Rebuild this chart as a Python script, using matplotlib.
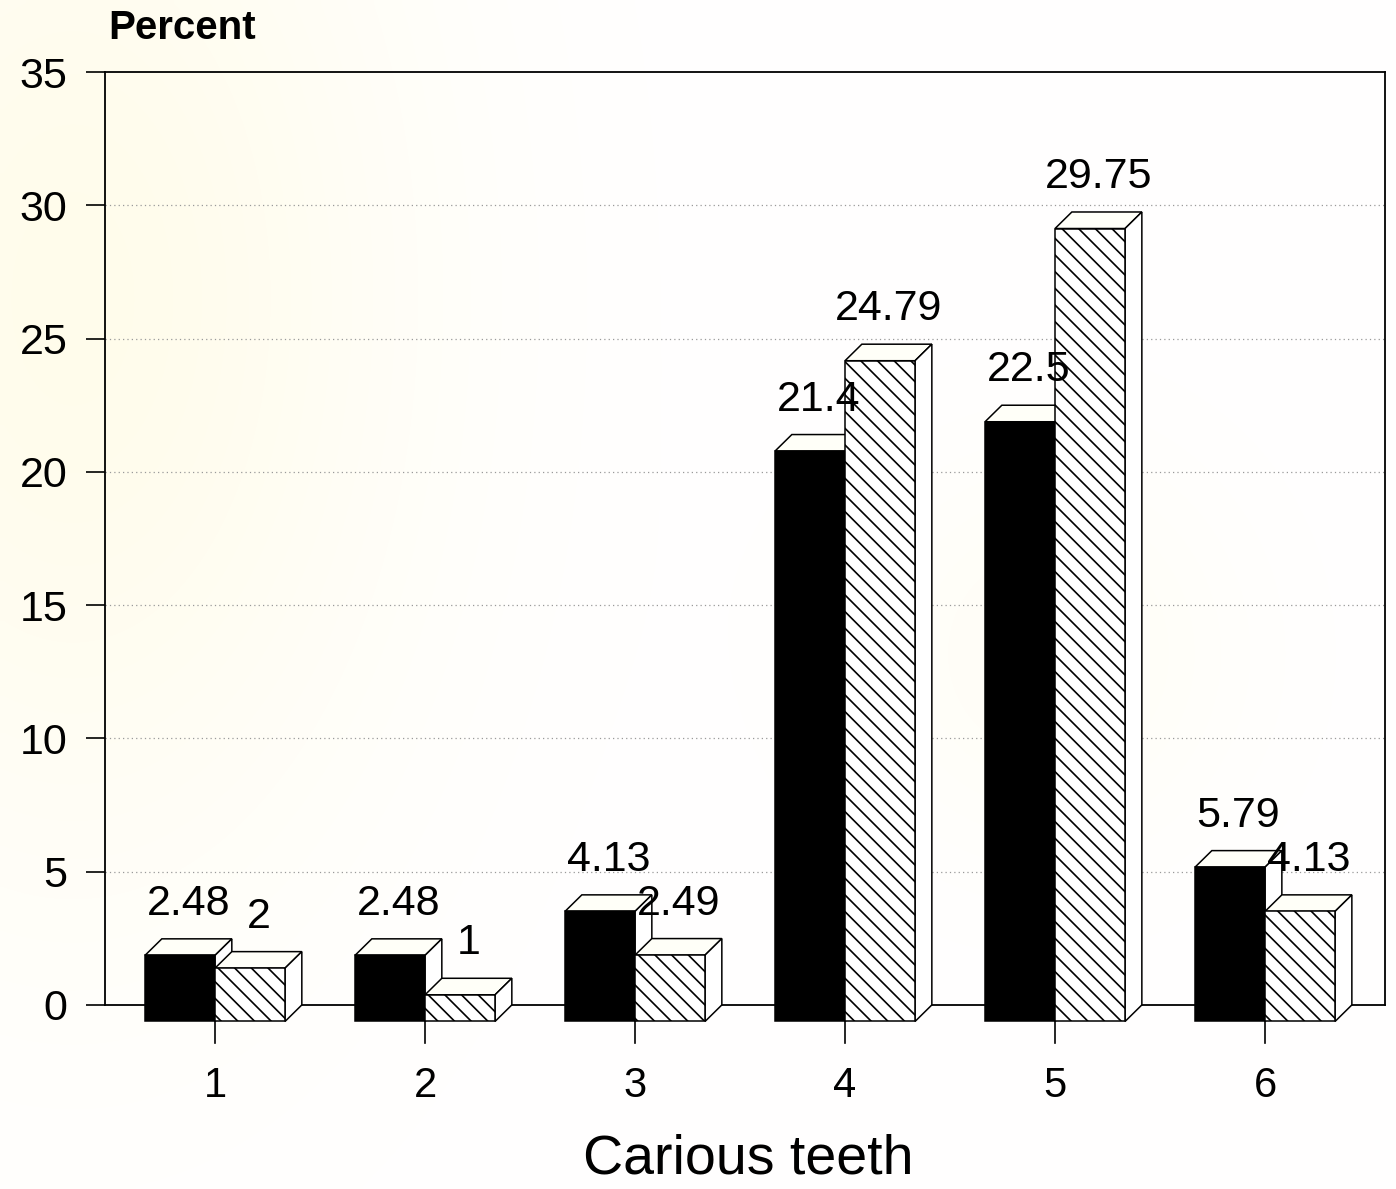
"""Carious teeth distribution: two-series 3D-style bar chart (percent per count)."""

import matplotlib
matplotlib.use("Agg")
import matplotlib.pyplot as plt
import numpy as np
from matplotlib.patches import Polygon

plt.rcParams["font.family"] = ["Liberation Sans", "DejaVu Sans"]
plt.rcParams["hatch.linewidth"] = 1.2

categories = ["1", "2", "3", "4", "5", "6"]
solid_vals = [2.48, 2.48, 4.13, 21.4, 22.5, 5.79]
hatched_vals = [2, 1, 2.49, 24.79, 29.75, 4.13]
solid_labels = ["2.48", "2.48", "4.13", "21.4", "22.5", "5.79"]
hatched_labels = ["2", "1", "2.49", "24.79", "29.75", "4.13"]
y_ticks = [0, 5, 10, 15, 20, 25, 30, 35]

BAR_W = 1 / 3      # front face width (category units)
DX = 0.08          # depth offset to the right
DY = 0.62          # depth offset upwards (percent units)


def box(ax, x0, v, front_kw):
    """Front face sits DY below the value; top and side faces recede up-right."""
    x1 = x0 + BAR_W
    edge = dict(edgecolor="black", linewidth=1.1, clip_on=False, zorder=4)
    top = [(x0, v - DY), (x1, v - DY), (x1 + DX, v), (x0 + DX, v)]
    side = [(x1, -DY), (x1 + DX, 0), (x1 + DX, v), (x1, v - DY)]
    front = [(x0, -DY), (x1, -DY), (x1, v - DY), (x0, v - DY)]
    ax.add_patch(Polygon(top, closed=True, facecolor="#fffff8", **edge))
    ax.add_patch(Polygon(side, closed=True, facecolor="white", **edge))
    ax.add_patch(Polygon(front, closed=True, **front_kw, **edge))


fig = plt.figure(figsize=(13.96, 11.89), dpi=100)
fig.patch.set_facecolor("white")

# faint cream tint of the paper
bg = fig.add_axes([0, 0, 1, 1], zorder=-10)
gx, gy = np.meshgrid(np.linspace(0, 1, 200), np.linspace(0, 1, 200))
tint = 0.55 * np.exp(-((gx - 0.05) ** 2 / 0.06 + (gy - 0.25) ** 2 / 0.25)) \
    + 0.25 * np.exp(-((gx - 0.75) ** 2 / 0.02 + (gy - 0.55) ** 2 / 0.03))
rgb = np.ones((200, 200, 3))
rgb[..., 2] -= 0.14 * tint
rgb[..., 1] -= 0.02 * tint
bg.imshow(rgb, extent=[0, 1, 0, 1], aspect="auto", interpolation="bilinear")
bg.axis("off")

ax = fig.add_axes([0.0752, 0.1548, 0.9169, 0.7846])
ax.set_facecolor("none")
x = np.arange(1, len(categories) + 1)
ax.set_xlim(0.476, 6.571)
ax.set_ylim(0, 35)

ax.set_yticks(y_ticks)
ax.set_xticks([])
ax.tick_params(axis="y", direction="out", length=14, width=1.2, pad=13, labelsize=31)
for s in ax.spines.values():
    s.set_linewidth(1.3)
for yv in y_ticks[1:-1]:
    ax.axhline(yv, color="#9a9a9a", linestyle=(0, (1, 2.5)), linewidth=0.9, zorder=1)

for xi, a, b, la, lb in zip(x, solid_vals, hatched_vals, solid_labels, hatched_labels):
    box(ax, xi - BAR_W, a, dict(facecolor="black"))
    box(ax, xi, b, dict(facecolor="white", hatch="\\\\"))
    ax.text(xi - BAR_W / 2 + DX / 2, a + 0.9, la, ha="center", va="baseline",
            fontsize=31, zorder=6)
    ax.text(xi + BAR_W / 2 + DX / 2, b + 0.9, lb, ha="center", va="baseline",
            fontsize=31, zorder=6)
    ax.plot([xi, xi], [-DY, -DY - 0.8], color="black", linewidth=1.2, clip_on=False)
    ax.text(xi, -2.3, categories[xi - 1], ha="center", va="top", fontsize=30)

fig.text(108 / 1396, 1 - 28 / 1189, "Percent", ha="left", va="center",
         fontsize=29, fontweight="bold")
fig.text(748 / 1396, 1 - 1160 / 1189, "Carious teeth", ha="center", va="center",
         fontsize=40)

fig.savefig("out.png", dpi=100)
